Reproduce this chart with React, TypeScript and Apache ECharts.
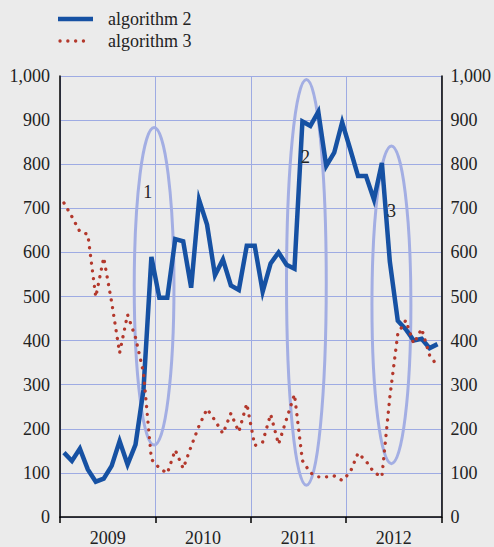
import React, { useEffect, useRef } from "react";
import * as echarts from "echarts";

const years = ["2009", "2010", "2011", "2012"];
const monthCodes = ["01", "02", "03", "04", "05", "06", "07", "08", "09", "10", "11", "12"];
const months = years.flatMap((y) => monthCodes.map((m) => `${y}-${m}`));

const algorithm2 = [
  146, 127, 155, 108, 80, 87, 116, 172, 119, 164, 288, 590,
  497, 497, 630, 625, 520, 719, 663, 548, 584, 525, 515, 615,
  615, 511, 575, 600, 572, 563, 897, 887, 919, 796, 826, 895,
  835, 773, 773, 720, 803, 579, 445, 426, 400, 404, 383, 392,
];
const algorithm3 = [
  712, 681, 647, 641, 499, 588, 487, 372, 459, 407, 328, 131,
  111, 99, 152, 110, 160, 207, 245, 219, 189, 235, 193, 257,
  162, 170, 233, 165, 222, 278, 128, 100, 91, 91, 93, 83,
  101, 145, 127, 101, 91, 272, 415, 446, 393, 427, 367, 342,
];

// annotation ellipses (in data units: month index / value)
const ellipseLabels = ["1", "2", "3"];
const ellipseCenterMonth = [11.34, 30.5, 41.2];
const ellipseCenterValue = [523, 532, 481];
const ellipseHalfWidthMonths = [2.5, 2.5, 2.45];
const ellipseHalfHeightValue = [360, 460, 360];
const labelMonth = [10.55, 30.4, 41.2];
const labelValue = [736, 816, 693];

const FONT = '"Liberation Serif", "Times New Roman", serif';
const BLUE = "#1651a3";
const RED = "#b3382c";
const GRID = "#9eabe3";
const ELLIPSE = "#a3aee3";
const TEXT = "#222222";

export default function App() {
  const ref = useRef<HTMLDivElement>(null);

  useEffect(() => {
    if (!ref.current) return;
    const chart = echarts.init(ref.current, undefined, { renderer: "svg" });
    const option: any = {
      animation: false,
      backgroundColor: "#ebebeb",
      grid: { left: 60, right: 51, top: 76, bottom: 25.5, containLabel: false },
      xAxis: [
        { type: "category", data: months, boundaryGap: true, show: false },
        {
          type: "category",
          data: years,
          boundaryGap: true,
          position: "bottom",
          axisLine: { show: true, lineStyle: { color: "#000", width: 1.5 } },
          axisTick: { show: true, length: 6, interval: 0, lineStyle: { color: "#000", width: 1.5 } },
          axisLabel: { color: TEXT, fontFamily: FONT, fontSize: 18, margin: 12, interval: 0 },
          splitLine: { show: true, interval: 0, lineStyle: { color: GRID, width: 1 } },
        },
      ],
      yAxis: [
        {
          type: "value",
          min: 0,
          max: 1000,
          interval: 100,
          position: "left",
          axisLine: { show: true, lineStyle: { color: "#000", width: 1.5 } },
          axisTick: { show: false },
          axisLabel: {
            color: TEXT,
            fontFamily: FONT,
            fontSize: 18,
            margin: 10,
            formatter: (v: number) => v.toLocaleString("en-US"),
          },
          splitLine: { show: true, lineStyle: { color: GRID, width: 1 } },
        },
        {
          type: "value",
          min: 0,
          max: 1000,
          interval: 100,
          position: "right",
          axisLine: { show: true, lineStyle: { color: "#000", width: 1.5 } },
          axisTick: { show: false },
          axisLabel: {
            color: TEXT,
            fontFamily: FONT,
            fontSize: 18,
            margin: 9,
            formatter: (v: number) => v.toLocaleString("en-US"),
          },
          splitLine: { show: false },
        },
      ],
      series: [
        {
          name: "algorithm 2",
          type: "line",
          xAxisIndex: 0,
          yAxisIndex: 0,
          data: algorithm2,
          symbol: "none",
          z: 3,
          lineStyle: { color: BLUE, width: 4.5, join: "miter", miterLimit: 6 },
        },
        {
          name: "algorithm 3",
          type: "line",
          xAxisIndex: 0,
          yAxisIndex: 0,
          data: algorithm3,
          symbol: "none",
          z: 4,
          lineStyle: { color: RED, width: 3.3, type: [0.1, 7.7], cap: "round", join: "round" },
        },
      ],
    };
    chart.setOption(option);

    const toPx = (m: number, v: number) => {
      const i0 = Math.floor(m);
      const f = m - i0;
      const a = chart.convertToPixel({ seriesIndex: 0 }, [i0, v]) as number[];
      const b = chart.convertToPixel({ seriesIndex: 0 }, [i0 + 1, v]) as number[];
      return [a[0] + (b[0] - a[0]) * f, a[1]];
    };

    const graphics: any[] = [];
    ellipseLabels.forEach((lab, k) => {
      const c = toPx(ellipseCenterMonth[k], ellipseCenterValue[k]);
      const r = toPx(ellipseCenterMonth[k] + ellipseHalfWidthMonths[k], ellipseCenterValue[k]);
      const t = toPx(ellipseCenterMonth[k], ellipseCenterValue[k] + ellipseHalfHeightValue[k]);
      graphics.push({
        type: "ellipse",
        z: 1,
        shape: { cx: c[0], cy: c[1], rx: r[0] - c[0], ry: c[1] - t[1] },
        style: { fill: "none", stroke: ELLIPSE, lineWidth: 3 },
      });
      const lp = toPx(labelMonth[k], labelValue[k]);
      graphics.push({
        type: "text",
        z: 10,
        x: lp[0],
        y: lp[1],
        style: {
          text: lab,
          fill: TEXT,
          fontFamily: FONT,
          fontSize: 18,
          align: "center",
          verticalAlign: "middle",
        },
      });
    });

    // legend
    graphics.push({
      type: "line",
      z: 10,
      shape: { x1: 58, y1: 19, x2: 93, y2: 19 },
      style: { stroke: BLUE, lineWidth: 4.7 },
    });
    graphics.push({
      type: "text",
      z: 10,
      x: 108,
      y: 19,
      style: { text: "algorithm 2", fill: TEXT, fontFamily: FONT, fontSize: 18, align: "left", verticalAlign: "middle" },
    });
    graphics.push({
      type: "line",
      z: 10,
      shape: { x1: 60, y1: 41, x2: 91, y2: 41 },
      style: { stroke: RED, lineWidth: 3.3, lineDash: [0.1, 7.7], lineCap: "round" },
    });
    graphics.push({
      type: "text",
      z: 10,
      x: 108,
      y: 41,
      style: { text: "algorithm 3", fill: TEXT, fontFamily: FONT, fontSize: 18, align: "left", verticalAlign: "middle" },
    });

    chart.setOption({ graphic: graphics });

    return () => chart.dispose();
  }, []);

  return (
    <div
      ref={ref}
      style={{ position: "fixed", left: 0, top: 0, width: 494, height: 547, background: "#ebebeb" }}
    />
  );
}
